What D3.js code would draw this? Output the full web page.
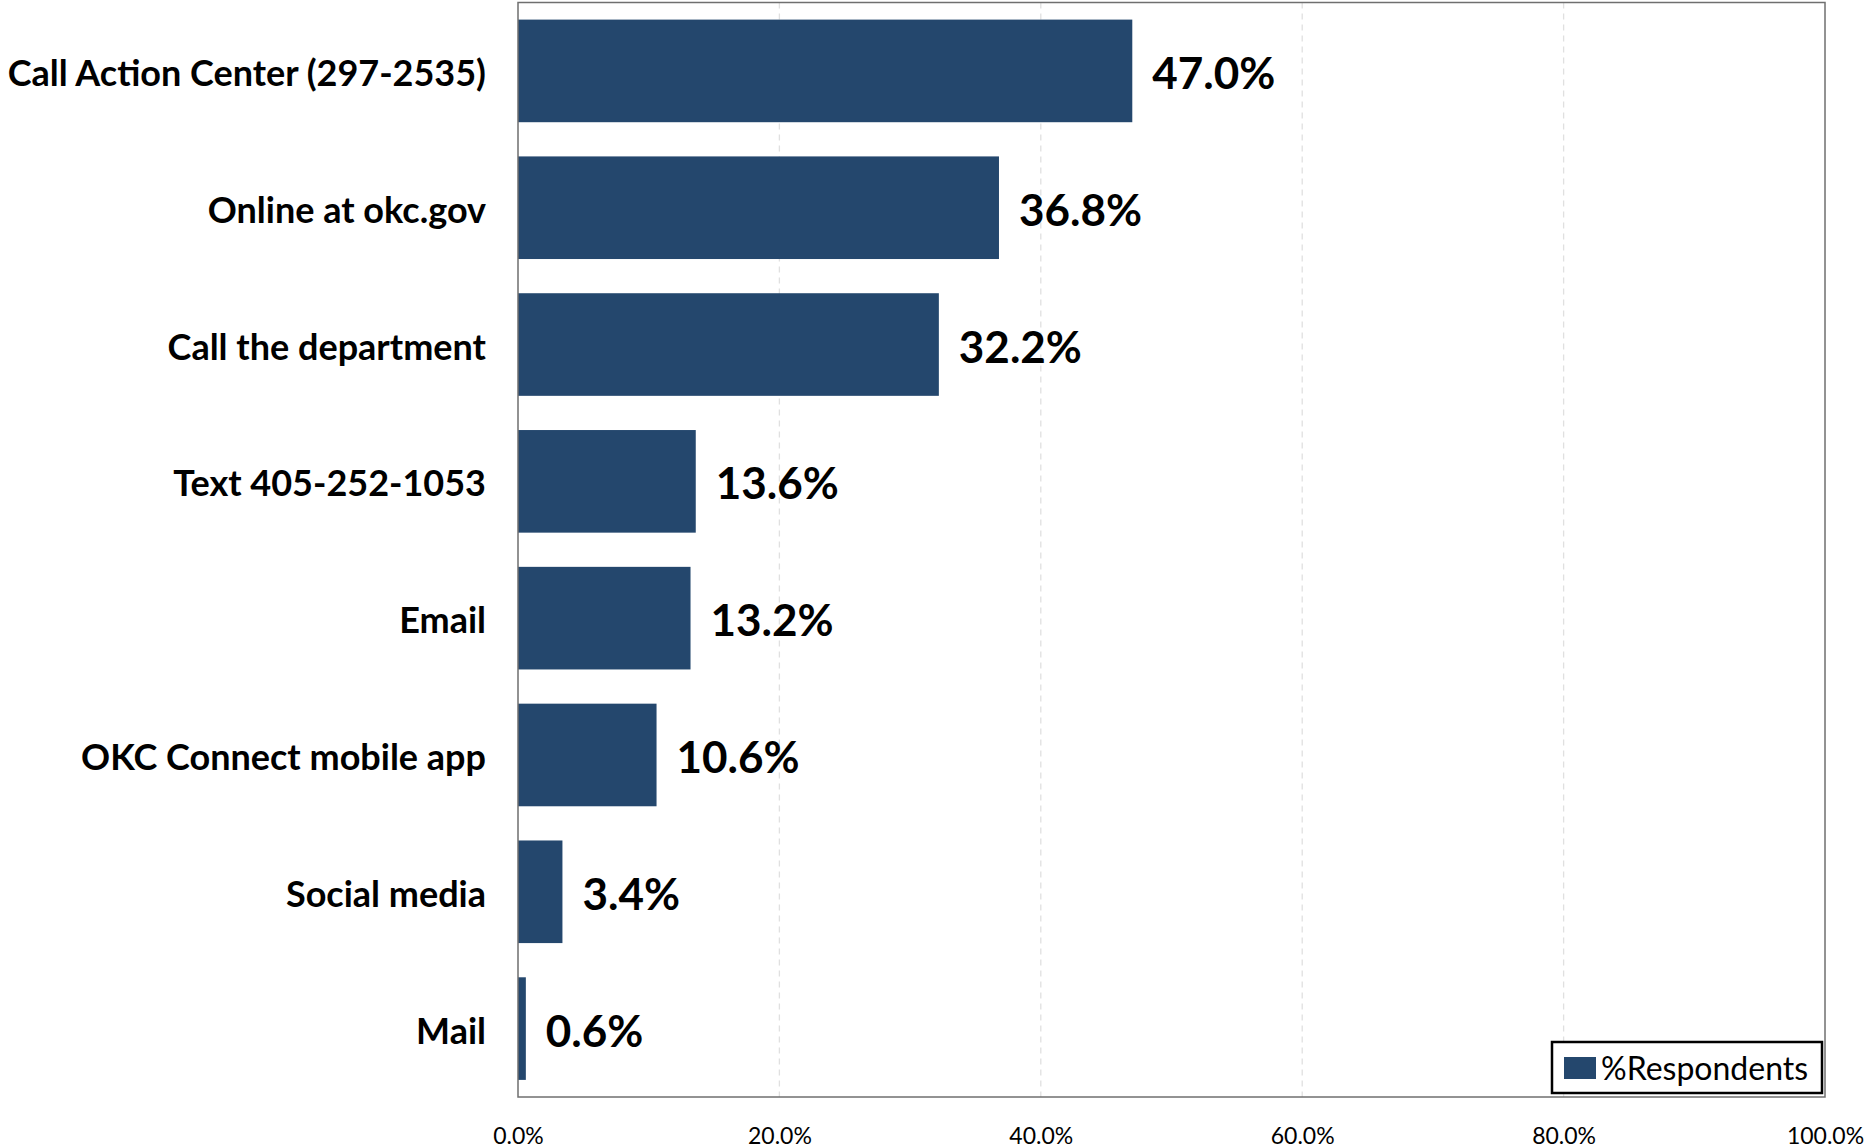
<!DOCTYPE html>
<html><head><meta charset="utf-8">
<script src="https://cdn.jsdelivr.net/npm/d3@7"></script>
<style>body{margin:0;background:#fff;}svg{display:block;}</style>
</head><body>
<svg id="c" width="1868" height="1148"></svg>
<script>
const categories = ["Call Action Center (297-2535)","Online at okc.gov","Call the department","Text 405-252-1053","Email","OKC Connect mobile app","Social media","Mail"];
const values = [47.0,36.8,32.2,13.6,13.2,10.6,3.4,0.6];
const tickValues = [0,20,40,60,80,100];
const seriesName = "%Respondents";

const svg = d3.select("#c");
const L=518, R=1825, T=2.5, B=1097;
const x = d3.scaleLinear().domain([0,100]).range([L,R]);
const y = d3.scaleBand().domain(categories).range([T,B]).paddingInner(0.25).paddingOuter(0.125);
const color = "#24476d";

// gridlines
svg.append("g").selectAll("line").data(tickValues.filter(d=>d>0&&d<100)).join("line")
  .attr("x1",d=>x(d)).attr("x2",d=>x(d)).attr("y1",T).attr("y2",B)
  .attr("stroke","#e0e0e0").attr("stroke-width",1.3).attr("stroke-dasharray","6,5");

// bars
svg.append("g").selectAll("rect").data(values).join("rect")
  .attr("x",x(0)).attr("y",(d,i)=>y(categories[i]))
  .attr("width",d=>x(d)-x(0)).attr("height",y.bandwidth()).attr("fill",color);

// plot border
svg.append("rect").attr("x",L).attr("y",T).attr("width",R-L).attr("height",B-T)
  .attr("fill","none").attr("stroke","#6f6f6f").attr("stroke-width",1.5);

// value labels
svg.append("g").selectAll("text").data(values).join("text")
  .attr("x",d=>x(d)+20).attr("y",(d,i)=>y(categories[i])+y.bandwidth()/2)
  .attr("dy","0.41em").attr("font-family","Lato").attr("font-weight",700)
  .attr("font-size",44).attr("fill","#000").text(d=>d.toFixed(1)+"%");

// category labels
svg.append("g").selectAll("text").data(categories).join("text")
  .attr("x",486).attr("y",d=>y(d)+y.bandwidth()/2).attr("dy","0.42em")
  .attr("text-anchor","end").attr("font-family","Lato").attr("font-weight",700)
  .attr("font-size",36).attr("fill","#000").text(d=>d);

// x axis
const ax = svg.append("g").attr("transform",`translate(0,${B})`)
  .call(d3.axisBottom(x).tickValues(tickValues).tickSize(0).tickPadding(31).tickFormat(d=>d.toFixed(1)+"%"));
ax.select(".domain").remove();
ax.selectAll("text").attr("font-family","Lato").attr("font-size",23).attr("fill","#000");

// legend
const lg = svg.append("g");
lg.append("rect").attr("x",1552).attr("y",1042).attr("width",270).attr("height",51)
  .attr("fill","#fff").attr("stroke","#000").attr("stroke-width",2.5);
lg.append("rect").attr("x",1564).attr("y",1057).attr("width",32).attr("height",22).attr("fill",color);
lg.append("text").attr("x",1601).attr("y",1068).attr("dy","0.36em")
  .attr("font-family","Lato").attr("font-size",32).attr("fill","#000").text(seriesName);
</script>
</body></html>
